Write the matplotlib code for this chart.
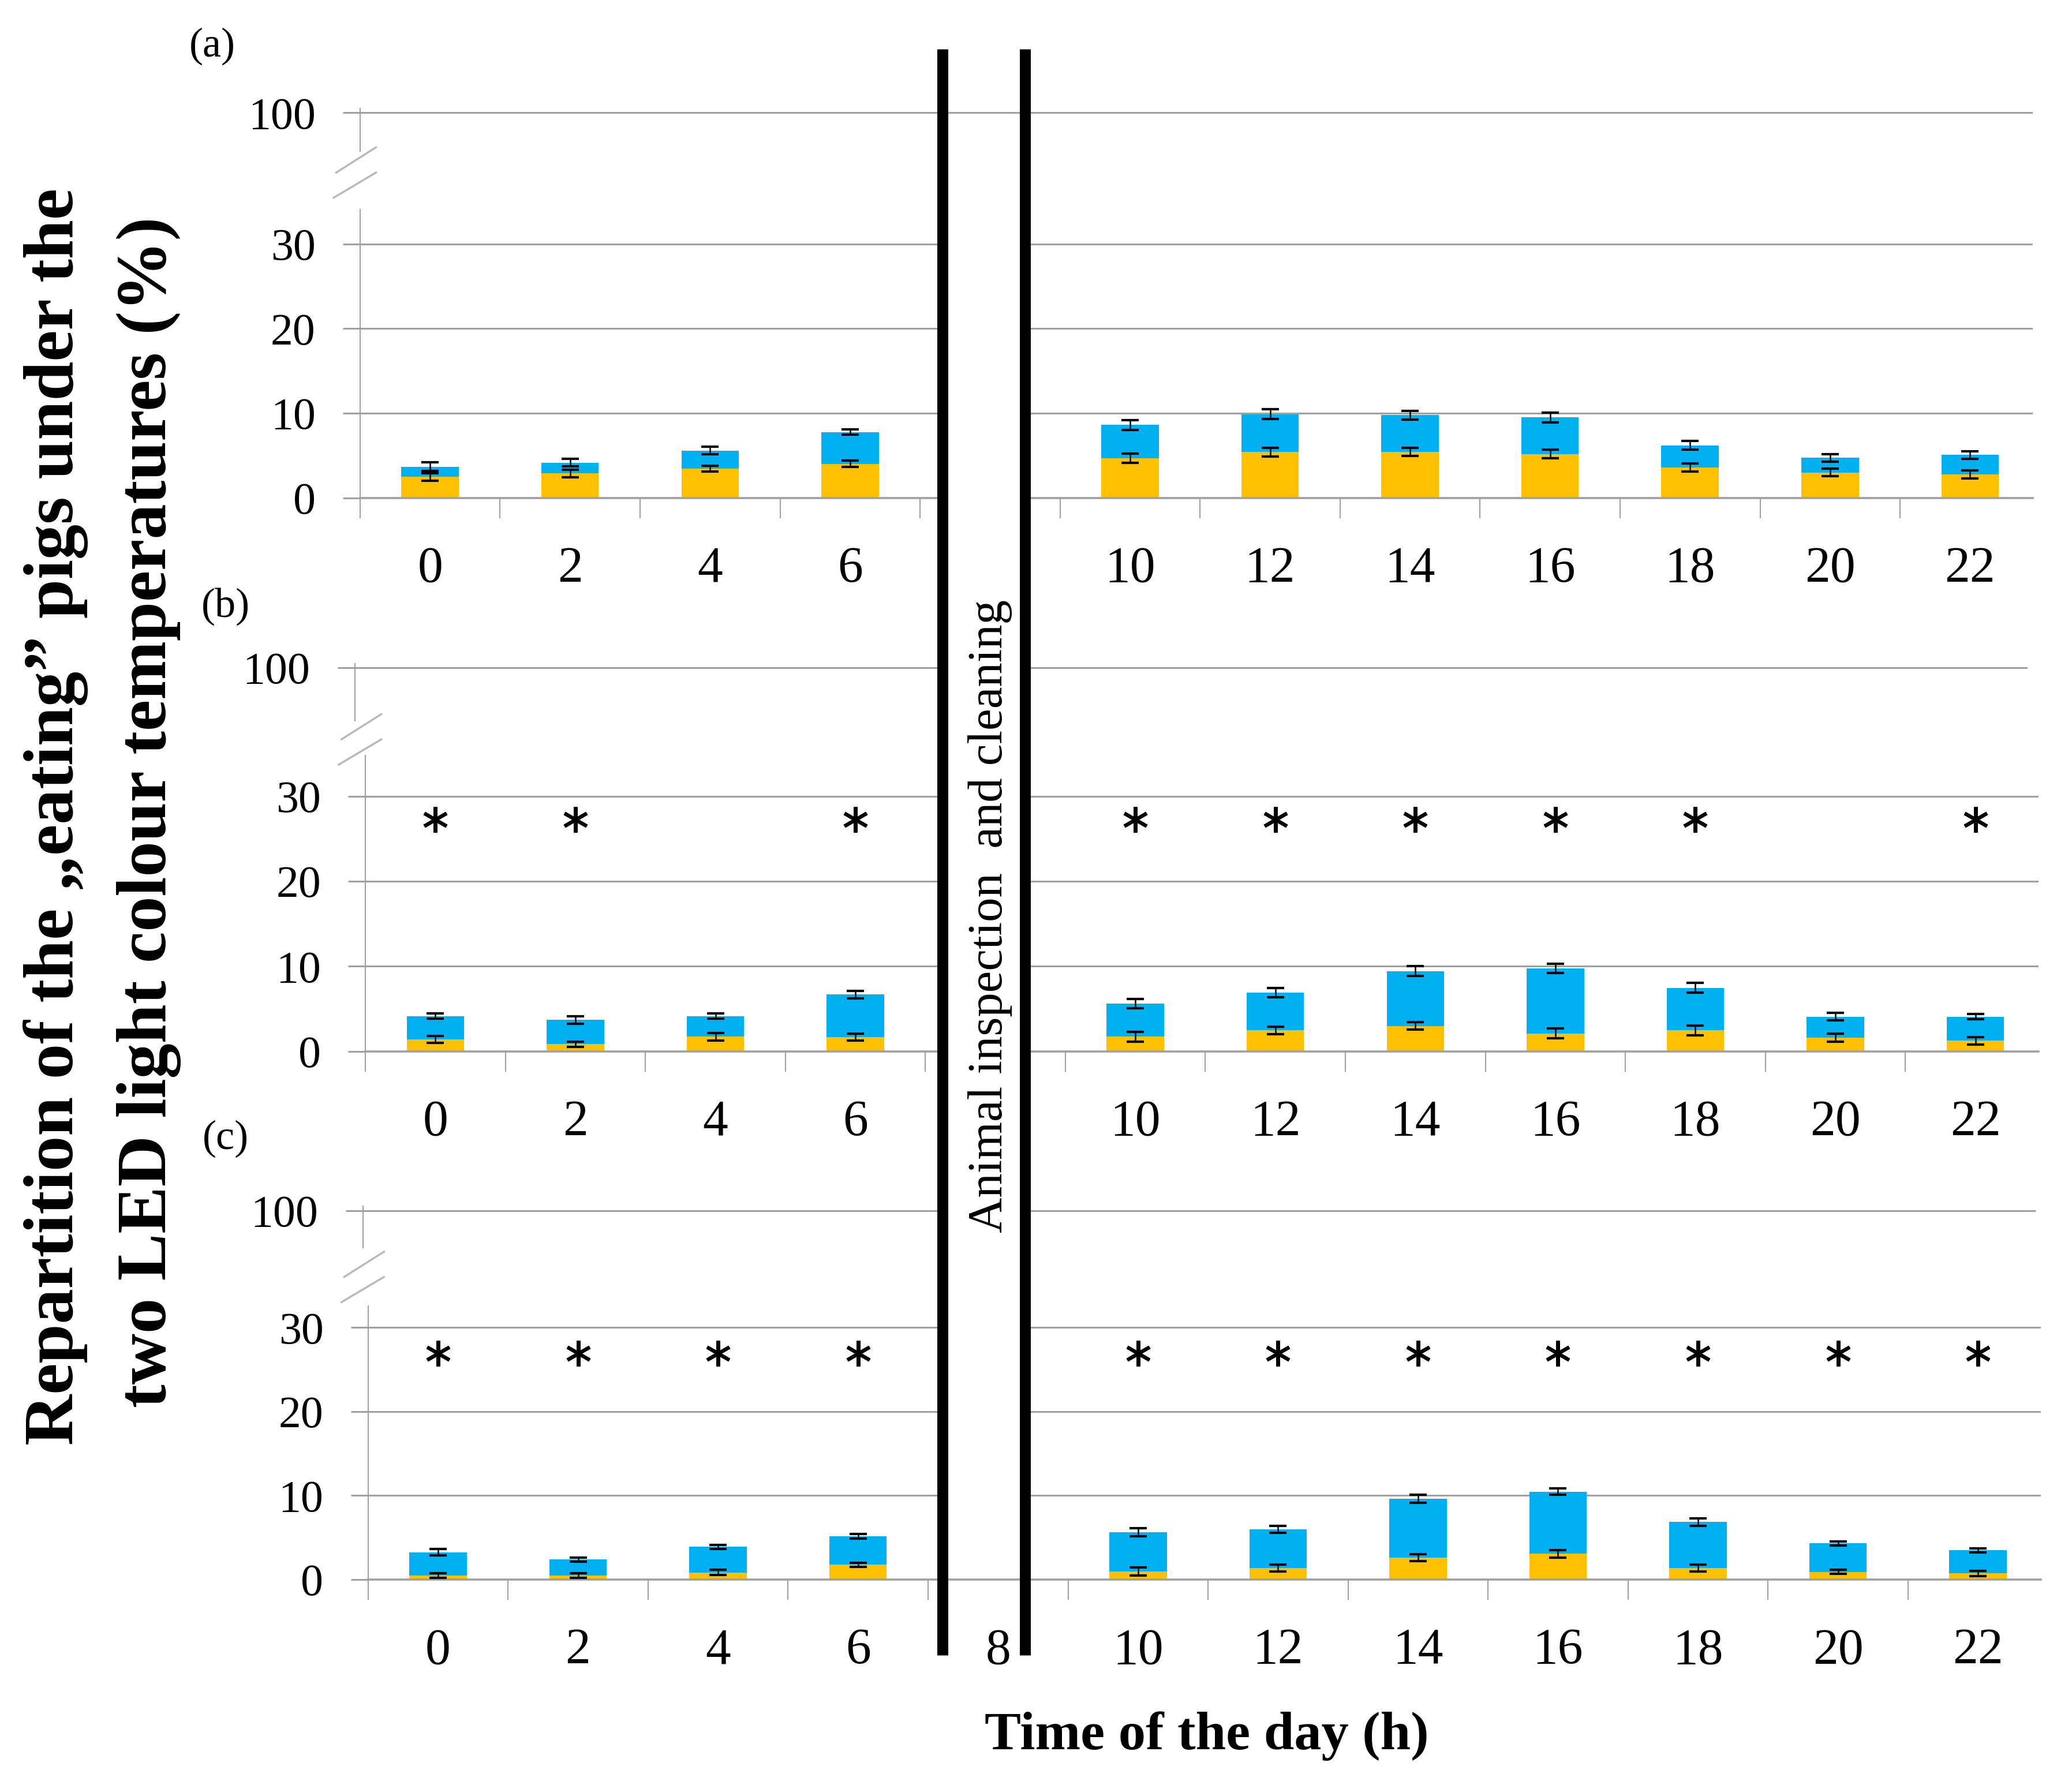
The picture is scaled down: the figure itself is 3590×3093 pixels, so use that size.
import numpy as np
import matplotlib
matplotlib.use("Agg")
import matplotlib.pyplot as plt
from matplotlib.lines import Line2D
from matplotlib.patches import Rectangle

plt.rcParams['font.family'] = ['Liberation Serif', 'DejaVu Serif']

# === DATA ===
hours = [0, 2, 4, 6, 10, 12, 14, 16, 18, 20, 22]
tick_hours = [0, 2, 4, 6, 8, 10, 12, 14, 16, 18, 20, 22]

# (a)
yellow_a = [2.46, 2.87, 3.45, 4.02, 4.67, 5.40, 5.40, 5.17, 3.56, 2.99, 2.76]
blue_a = [1.22, 1.27, 2.14, 3.75, 3.95, 4.49, 4.37, 4.32, 2.65, 1.72, 2.30]
yellow_err_a = [0.45, 0.45, 0.37, 0.38, 0.52, 0.52, 0.48, 0.52, 0.48, 0.45, 0.50]
blue_err_a = [0.50, 0.45, 0.44, 0.30, 0.57, 0.60, 0.50, 0.60, 0.52, 0.45, 0.45]
stars_a = []

# (b)
yellow_b = [1.38, 0.85, 1.72, 1.65, 1.72, 2.46, 2.99, 2.10, 2.46, 1.61, 1.26]
blue_b = [2.76, 2.83, 2.42, 5.02, 3.91, 4.44, 6.44, 7.65, 5.01, 2.46, 2.81]
yellow_err_b = [0.40, 0.30, 0.45, 0.40, 0.57, 0.44, 0.46, 0.57, 0.57, 0.45, 0.44]
blue_err_b = [0.30, 0.45, 0.30, 0.45, 0.55, 0.54, 0.57, 0.54, 0.57, 0.45, 0.30]
stars_b = [0, 2, 6, 10, 12, 14, 16, 18, 22]

# (c)
yellow_c = [0.50, 0.50, 0.85, 1.76, 0.96, 1.37, 2.63, 3.07, 1.37, 0.92, 0.73]
blue_c = [2.75, 1.88, 3.04, 3.39, 4.64, 4.63, 6.98, 7.39, 5.47, 3.40, 2.75]
yellow_err_c = [0.26, 0.26, 0.30, 0.25, 0.49, 0.40, 0.40, 0.46, 0.40, 0.26, 0.29]
blue_err_c = [0.38, 0.25, 0.26, 0.25, 0.48, 0.42, 0.46, 0.37, 0.46, 0.24, 0.26]
stars_c = [0, 2, 4, 6, 10, 12, 14, 16, 18, 20, 22]

YEL = '#FFC000'
BLU = '#00B0F0'
GRID = '#A0A0A0'

# === LAYOUT (measured on a 1/2.3 copy of the target) ===
FW, FH = 3590 / 2.3, 3093 / 2.3
HS = 52.73  # one hour along x


def fx(x):
    return x / FW


def fy(y):
    return 1 - y / FH


fig = plt.figure(figsize=(35.9, 30.93), dpi=100)


def draw_panel(yellow, blue, yerr_y, yerr_b, stars, star_y, geo, show8):
    # geo: hour-0 x, value-0 y, px per unit, y of 100, upper bottom, lower top, upper dx, break mid
    x0, y0, s, y100, ub, lt, up_dx, bm = geo
    left = x0 - HS

    lo = fig.add_axes([fx(left), fy(y0), 23.9 * HS / FW, (y0 - lt) / FH])
    lo.set_xlim(-1, 22.9)
    lo.set_ylim(0, (y0 - lt) / s)

    up_top = y100 - 0.5 * s
    up = fig.add_axes([fx(left + up_dx), fy(ub), 23.9 * HS / FW, (ub - up_top) / FH])
    up.set_xlim(-1, 22.9)
    up.set_ylim(100 - (ub - y100) / s, 100.5)

    yellow = np.array(yellow)
    blue = np.array(blue)
    lo.bar(hours, yellow, width=0.82, color=YEL, zorder=2)
    lo.bar(hours, blue, width=0.82, bottom=yellow, color=BLU, zorder=2)
    lo.errorbar(hours, yellow, yerr=yerr_y, fmt='none', ecolor='black',
                elinewidth=1.8, capsize=11, capthick=3.0, zorder=3)
    lo.errorbar(hours, yellow + blue, yerr=yerr_b, fmt='none', ecolor='black',
                elinewidth=1.8, capsize=11, capthick=3.0, zorder=3)

    if stars:
        lo.plot(stars, [star_y] * len(stars), linestyle='none', marker=(6, 2, 0),
                ms=32, mew=4.4, color='black', zorder=4)

    for ax in (lo, up):
        ax.set_axisbelow(True)
        ax.spines['top'].set_visible(False)
        ax.spines['right'].set_visible(False)
        ax.spines['left'].set_color(GRID)
        ax.spines['left'].set_linewidth(1.5)
        ax.grid(axis='y', color=GRID, linewidth=2.2)
        ax.tick_params(axis='y', length=21.6, width=2.2, color=GRID, pad=34,
                       labelsize=56)

    lo.spines['bottom'].set_color(GRID)
    lo.spines['bottom'].set_linewidth(2.6)
    lo.set_yticks([0, 10, 20, 30])
    lo.set_xticks(tick_hours)
    lo.set_xticklabels([str(h) if (h != 8 or show8) else '' for h in tick_hours])
    lo.set_xticks(np.arange(-1, 23, 2), minor=True)
    lo.tick_params(axis='x', which='major', length=0, pad=60, labelsize=63)
    lo.tick_params(axis='x', which='minor', length=25, width=1.5, color=GRID)

    up.spines['bottom'].set_visible(False)
    up.set_yticks([100])
    up.set_xticks([])

    # break marks
    xa = left
    for (xs, ys) in [((xa - 18, xa + 12), (bm, bm - 19)),
                     ((xa - 20, xa + 12), (bm + 19, bm))]:
        fig.add_artist(Line2D([fx(xs[0]), fx(xs[1])], [fy(ys[0]), fy(ys[1])],
                              transform=fig.transFigure, color='#B8B8B8', lw=2.4))
    return lo


draw_panel(yellow_a, blue_a, yellow_err_a, blue_err_a, stars_a, 27.3,
           (324, 375, 6.37, 85, 114, 158, 0, 130), False)
draw_panel(yellow_b, blue_b, yellow_err_b, blue_err_b, stars_b, 27.3,
           (328, 792, 6.40, 503, 543, 569, -8, 557), False)
draw_panel(yellow_c, blue_c, yellow_err_c, blue_err_c, stars_c, 26.9,
           (330, 1190, 6.33, 912, 940, 984, -4, 962), True)

# === gap between the two black lines ===
for ytop, ybot in [(150, 377), (495, 795), (900, 1188.6)]:
    fig.add_artist(Rectangle((fx(706), fy(ybot)), (776 - 706) / FW, (ybot - ytop) / FH,
                             transform=fig.transFigure, facecolor='white',
                             edgecolor='none', zorder=1.5))

for xl in (710, 772):
    fig.add_artist(Line2D([fx(xl), fx(xl)], [fy(37), fy(1247)], transform=fig.transFigure,
                          color='black', lw=13.7, solid_capstyle='butt', zorder=2))

fig.text(fx(746), fy(690), 'Animal inspection  and cleaning', rotation=90,
         ha='center', va='center', fontsize=61, zorder=3)

# === labels ===
fig.text(fx(42), fy(615), 'Repartition of the \u201eeating\u201d pigs under the',
         rotation=90, ha='center', va='center', fontsize=88, fontweight='bold')
fig.text(fx(112), fy(612), 'two LED light colour temperatures (%)',
         rotation=90, ha='center', va='center', fontsize=88, fontweight='bold')
fig.text(fx(909), fy(1308), 'Time of the day (h)', ha='center', va='center',
         fontsize=68, fontweight='bold')

for lab, (lx, ly) in [('(a)', (160, 35)), ('(b)', (170, 457)), ('(c)', (170, 858))]:
    fig.text(fx(lx), fy(ly), lab, ha='center', va='center', fontsize=52)

fig.savefig('out.png', dpi=100)
